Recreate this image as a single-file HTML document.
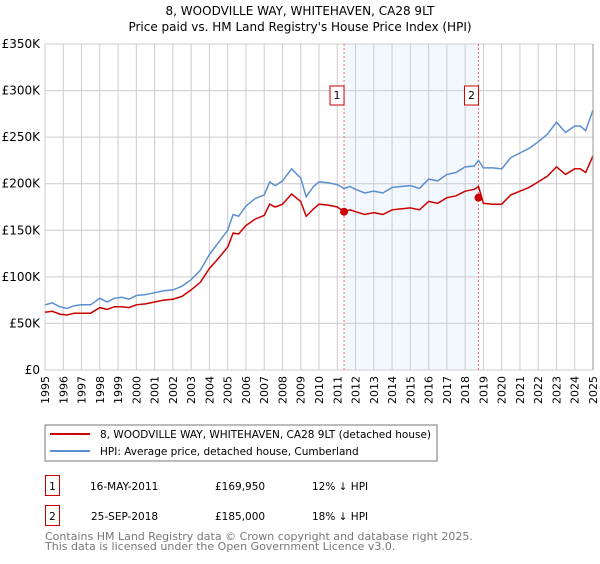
<!DOCTYPE html>
<html><head><meta charset="utf-8">
<style>
body{margin:0;background:#fff;font-family:"DejaVu Sans","Liberation Sans",sans-serif;}
svg text{font-family:"DejaVu Sans","Liberation Sans",sans-serif;}
</style></head>
<body>
<svg id="chart" width="600" height="560" xmlns="http://www.w3.org/2000/svg">
<text x="300" y="15" text-anchor="middle" font-size="12">8, WOODVILLE WAY, WHITEHAVEN, CA28 9LT</text>
<text x="300" y="31" text-anchor="middle" font-size="12">Price paid vs. HM Land Registry's House Price Index (HPI)</text>
<g id="grid"></g>
<g id="marks"></g>
<g id="axes"></g>

<rect x="45" y="425" width="392" height="36" fill="#fff" stroke="#777"/>
<line x1="50" y1="434" x2="90" y2="434" stroke="#cc0000" stroke-width="2"/>
<text x="100" y="438" font-size="10.5">8, WOODVILLE WAY, WHITEHAVEN, CA28 9LT (detached house)</text>
<line x1="50" y1="451" x2="90" y2="451" stroke="#5b8fd0" stroke-width="2"/>
<text x="100" y="455" font-size="10.5">HPI: Average price, detached house, Cumberland</text>

<rect x="45.5" y="475.5" width="14" height="20" fill="none" stroke="#cc0000"/>
<text x="52.5" y="490" font-size="10.5" text-anchor="middle">1</text>
<text x="90" y="490" font-size="10.5">16-MAY-2011</text>
<text x="215" y="490" font-size="10.5">£169,950</text>
<text x="312" y="490" font-size="10.5">12% ↓ HPI</text>
<rect x="45.5" y="505.5" width="14" height="20" fill="none" stroke="#cc0000"/>
<text x="52.5" y="520" font-size="10.5" text-anchor="middle">2</text>
<text x="91" y="520" font-size="10.5">25-SEP-2018</text>
<text x="215" y="520" font-size="10.5">£185,000</text>
<text x="312" y="520" font-size="10.5">18% ↓ HPI</text>
<text x="45" y="540" font-size="11" fill="#777">Contains HM Land Registry data © Crown copyright and database right 2025.</text>
<text x="45" y="550" font-size="11" fill="#777">This data is licensed under the Open Government Licence v3.0.</text>
</svg>
<script>
const years=[1995,1996,1997,1998,1999,2000,2001,2002,2003,2004,2005,2006,2007,2008,2009,2010,2011,2012,2013,2014,2015,2016,2017,2018,2019,2020,2021,2022,2023,2024,2025];
const yTicks=[0,50,100,150,200,250,300,350];
const yTickLabels=["£0","£50K","£100K","£150K","£200K","£250K","£300K","£350K"];
const dates=[1995,1995.4,1995.8,1996.2,1996.6,1997,1997.5,1998,1998.4,1998.8,1999.2,1999.6,2000,2000.5,2001,2001.5,2002,2002.5,2003,2003.5,2004,2004.5,2005,2005.3,2005.6,2006,2006.5,2007,2007.3,2007.6,2008,2008.5,2009,2009.3,2009.7,2010,2010.5,2011,2011.37,2011.7,2012,2012.5,2013,2013.5,2014,2014.5,2015,2015.5,2016,2016.5,2017,2017.5,2018,2018.5,2018.73,2019,2019.5,2020,2020.5,2021,2021.5,2022,2022.5,2023,2023.5,2024,2024.3,2024.6,2025];
const hpi=[70,72,68,66,69,70,70,77,73,77,78,76,80,81,83,85,86,90,97,107,124,137,150,167,165,176,184,188,202,198,203,216,206,186,197,202,201,199,195,197,194,190,192,190,196,197,198,195,205,203,210,212,218,219,225,217,217,216,228,233,238,245,253,266,255,262,262,257,279];
const price=[62,63,60,59,61,61,61,67,65,68,68,67,70,71,73,75,76,79,86,94,109,120,132,147,146,155,162,166,178,175,178,189,181,165,173,178,177,175,170,172,170,167,169,167,172,173,174,172,181,179,185,187,192,194,197,179,178,178,188,192,196,202,208,218,210,216,216,212,230];
const sales=[[2011.37,169.95],[2018.73,185]];

const NS="http://www.w3.org/2000/svg";
const X0=45,X1=593,Y0=370,Y1=44;
const xs=v=>X0+(v-1995)/30*(X1-X0);
const ys=v=>Y0-v/350*(Y0-Y1);
function mk(t,a,p){const e=document.createElementNS(NS,t);for(const k in a)e.setAttribute(k,a[k]);p.appendChild(e);return e;}
const grid=document.getElementById('grid'),marks=document.getElementById('marks'),axes=document.getElementById('axes');
const shade=mk('rect',{x:xs(sales[0][0]),y:Y1,width:xs(sales[1][0])-xs(sales[0][0]),height:Y0-Y1,fill:'#eef3fd',opacity:0.7},grid);


years.forEach(y=>{const l=mk('line',{x1:xs(y),x2:xs(y),y1:Y1,y2:Y0,stroke:'#ccc'},grid);


const t=mk('text',{x:0,y:0,'font-size':11,'text-anchor':'end',transform:`translate(${xs(y)+4},${Y0+6}) rotate(-90)`},axes);t.textContent=y;

});
yTicks.forEach((v,i)=>{const l=mk('line',{x1:X0,x2:X1,y1:ys(v),y2:ys(v),stroke:'#ccc'},grid);


const t=mk('text',{x:X0-5,y:ys(v)+4,'font-size':12,'text-anchor':'end'},axes);t.textContent=yTickLabels[i];

});
sales.forEach((s,i)=>{const l=mk('line',{x1:xs(s[0]),x2:xs(s[0]),y1:Y1,y2:Y0,stroke:'#f07070','stroke-dasharray':'2,2'},marks);

});
function path(vals,col,name){const d=dates.map((t,i)=>(i?'L':'M')+xs(t).toFixed(1)+','+ys(vals[i]).toFixed(1)).join('');
const p=mk('path',{d:d,fill:'none',stroke:col,'stroke-width':1.5},marks);

}
path(hpi,'#5b8fd0','hpi-line');
path(price,'#cc0000','price-line');
sales.forEach((s,i)=>{const c=mk('circle',{cx:xs(s[0]),cy:ys(s[1]),r:4,fill:'#cc0000'},marks);


const bx=xs(s[0])-10;
const r=mk('rect',{x:bx-4,y:86,width:14,height:19,fill:'#fff',stroke:'#cc0000'},marks);


const t=mk('text',{x:bx+3,y:99,'font-size':11,'text-anchor':'middle'},marks);t.textContent=i+1;

});
const ax=mk('line',{x1:X1,x2:X1,y1:Y1,y2:Y0,stroke:'#999'},axes);


</script>
</body></html>
